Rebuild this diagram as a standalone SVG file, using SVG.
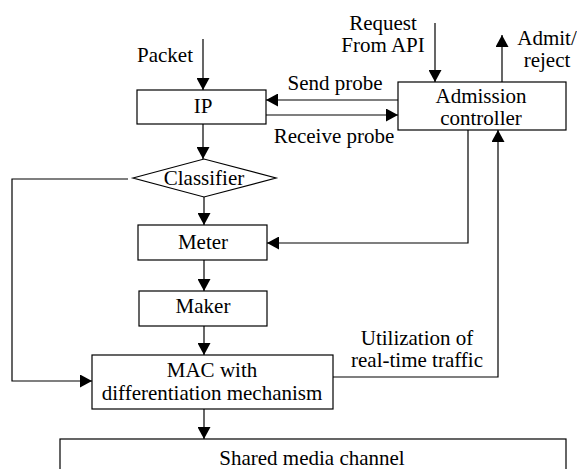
<svg xmlns="http://www.w3.org/2000/svg" width="577" height="469" viewBox="0 0 577 469">
<style>
text{font-family:"Liberation Serif","Times New Roman",serif;font-size:21px;fill:#000;text-anchor:middle}
.box{fill:#fff;stroke:#000;stroke-width:1.2}
.c{fill:none;stroke:#000;stroke-width:1.2}
</style>
<defs>
<marker id="ah" markerUnits="userSpaceOnUse" markerWidth="12" markerHeight="13" refX="12" refY="6.5" orient="auto">
<path d="M0,0 L12,6.5 L0,13 z" fill="#000"/>
</marker>
</defs>
<rect width="577" height="469" fill="#fff"/>
<g id="connectors">
<path class="c" d="M203,39 V90" marker-end="url(#ah)"/>
<path class="c" d="M203,124 V159" marker-end="url(#ah)"/>
<path class="c" d="M204,197 V225" marker-end="url(#ah)"/>
<path class="c" d="M204,260 V291" marker-end="url(#ah)"/>
<path class="c" d="M204,326 V355" marker-end="url(#ah)"/>
<path class="c" d="M204,409 V439" marker-end="url(#ah)"/>
<path class="c" d="M128,179 H12 V381 H92" marker-end="url(#ah)"/>
<path class="c" d="M468,130 V243 H267" marker-end="url(#ah)"/>
<path class="c" d="M333,377 H498 V130" marker-end="url(#ah)"/>
<path class="c" d="M398,100 H266" marker-end="url(#ah)"/>
<path class="c" d="M266,115 H398" marker-end="url(#ah)"/>
<path class="c" d="M435,23 V82" marker-end="url(#ah)"/>
<path class="c" d="M502,82 V35" marker-end="url(#ah)"/>
<text x="165" y="62">Packet</text>
<text x="335" y="90">Send probe</text>
<text x="334" y="143">Receive probe</text>
<text x="383" y="30">Request</text>
<text x="383" y="52">From API</text>
<text x="547" y="45">Admit/</text>
<text x="547" y="67">reject</text>
<text x="417" y="345">Utilization of</text>
<text x="417" y="367">real-time traffic</text>
</g>
<g id="ip"><rect class="box" x="137" y="90" width="129" height="34"/><text x="203" y="113">IP</text></g>
<g id="classifier"><polygon class="box" points="133,178 204,159 276,178 204,197"/><text x="204" y="185">Classifier</text></g>
<g id="meter"><rect class="box" x="138" y="225" width="129" height="35"/><text x="203" y="249">Meter</text></g>
<g id="maker"><rect class="box" x="139" y="291" width="128" height="35"/><text x="203" y="313">Maker</text></g>
<g id="mac"><rect class="box" x="92" y="355" width="241" height="54"/><text x="212" y="377">MAC with</text><text x="212" y="400">differentiation mechanism</text></g>
<g id="admission"><rect class="box" x="398" y="82" width="168" height="48"/><text x="481" y="103">Admission</text><text x="481" y="125">controller</text></g>
<g id="shared"><rect class="box" x="60" y="439" width="506" height="40"/><text x="312" y="465">Shared media channel</text></g>
</svg>
